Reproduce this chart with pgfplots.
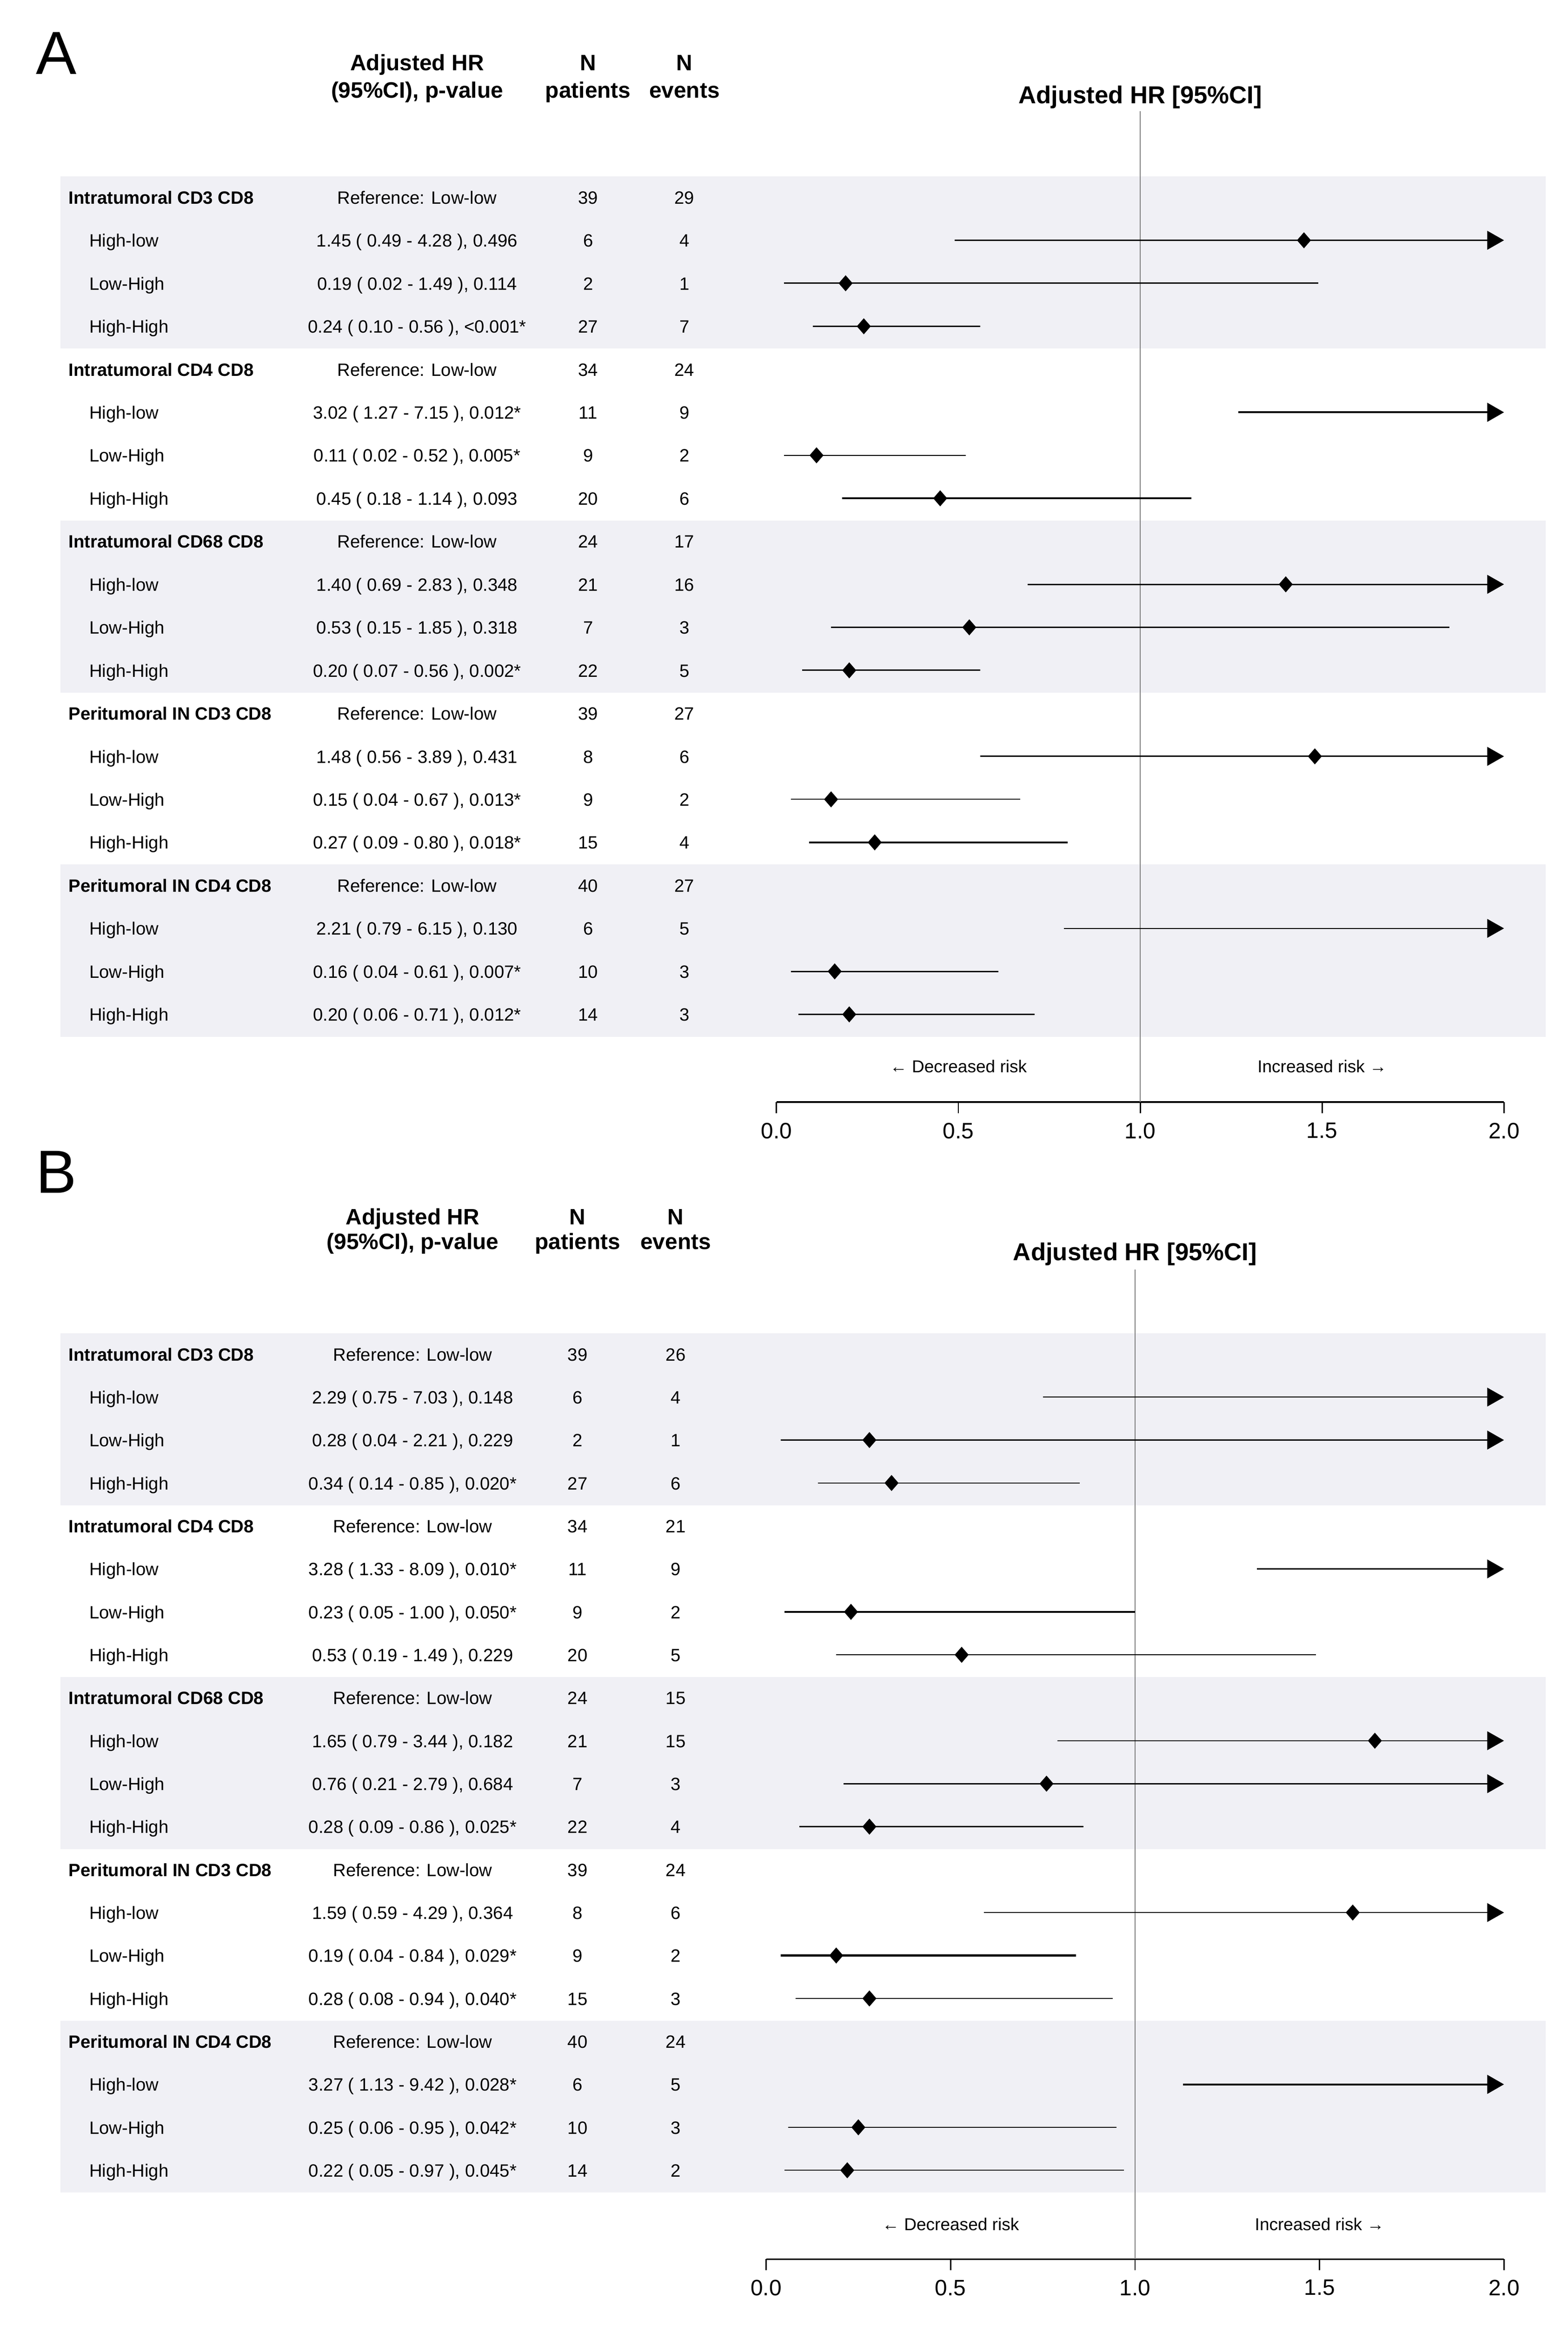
\documentclass[border=0pt]{standalone}
\usepackage{fontspec}
\setmainfont{Liberation Sans}
\usepackage{pgfplots}
\pgfplotsset{compat=1.18}
\usetikzlibrary{arrows.meta}

\definecolor{band}{RGB}{240,240,245}
\definecolor{refline}{RGB}{125,125,125}

\newcommand\fs[1]{\fontsize{#1}{#1}\selectfont}

% column positions (axis units), set before each panel
\newcommand\cL{0}\newcommand\cS{0}\newcommand\cH{0}\newcommand\cP{0}\newcommand\cE{0}

\tikzset{cell/.style={inner sep=0pt, yshift=-1.8pt, font=\fs{12}}}

\newcommand\grp[4]{%
  \node[cell, anchor=mid west, font=\bfseries\fs{12}] at (axis cs:\cL,-#1) {#2};
  \node[cell, anchor=mid] at (axis cs:\cH,-#1) {Reference: Low-low};
  \node[cell, anchor=mid] at (axis cs:\cP,-#1) {#3};
  \node[cell, anchor=mid] at (axis cs:\cE,-#1) {#4};}
\newcommand\sub[5]{%
  \node[cell, anchor=mid west] at (axis cs:\cS,-#1) {#2};
  \node[cell, anchor=mid] at (axis cs:\cH,-#1) {#3};
  \node[cell, anchor=mid] at (axis cs:\cP,-#1) {#4};
  \node[cell, anchor=mid] at (axis cs:\cE,-#1) {#5};}
% two-line bold column header, baselines at y=#2 and y=#3
\newcommand\hdr[5]{%
  \node[inner sep=0pt, anchor=base, font=\bfseries\fs{15}] at (axis cs:#1,#2) {#4};
  \node[inner sep=0pt, anchor=base, font=\bfseries\fs{15}] at (axis cs:#1,#3) {#5};}

\pgfplotsset{
  forest/.style={
    scale only axis, height=725pt,
    xmin=0, xmax=2, ymax=3,
    hide y axis, axis x line*=bottom,
    x axis line style={-, line width=1.05pt},
    xtick={0,0.5,1,1.5,2}, tick align=outside, major tick length=7.4pt,
    xtick style={line width=0.9pt, black},
    xticklabel style={font=\fs{15}, yshift=-3pt, /pgf/number format/.cd, fixed, fixed zerofill, precision=1, assume math mode=true},
    clip=false, set layers,
  },
  ci/.style={black, line width=0.95pt, no marks, forget plot},
  thin/.style={line width=0.7pt},
  thick/.style={line width=1.3pt},
  arr/.style={-{Triangle[length=11.3pt, width=12.6pt]}},
  est/.style={only marks, mark=diamond*, mark size=5.1pt, mark options={black, xscale=1.16}},
  refl/.style={refline, line width=0.7pt, no marks, forget plot},
}

\begin{document}
\begin{tikzpicture}
\path (0,0) rectangle (1056pt,-1566pt);

% ---------------- Panel A ----------------
\renewcommand\cL{-1.947}\renewcommand\cS{-1.890}\renewcommand\cH{-0.988}
\renewcommand\cP{-0.518}\renewcommand\cE{-0.253}
\begin{axis}[forest, width=490pt, ymin=-22.04, at={(523pt,-742pt)}, anchor=south west]
\begin{pgfonlayer}{axis background}
\fill[band] (axis cs:-1.969,-0.516) rectangle (axis cs:2.114,-4.52);
\fill[band] (axis cs:-1.969,-8.516) rectangle (axis cs:2.114,-12.52);
\fill[band] (axis cs:-1.969,-16.516) rectangle (axis cs:2.114,-20.52);
\end{pgfonlayer}
\addplot[refl] coordinates {(1,1.0) (1,-22.04)};

\addplot[ci, arr] coordinates {(0.49,-2) (2,-2)};
\addplot[ci] coordinates {(0.02,-3) (1.49,-3)};
\addplot[ci] coordinates {(0.10,-4) (0.56,-4)};
\addplot[ci, thick, arr] coordinates {(1.27,-6) (2,-6)};
\addplot[ci, thin] coordinates {(0.02,-7) (0.52,-7)};
\addplot[ci, thick] coordinates {(0.18,-8) (1.14,-8)};
\addplot[ci, arr] coordinates {(0.69,-10) (2,-10)};
\addplot[ci] coordinates {(0.15,-11) (1.85,-11)};
\addplot[ci] coordinates {(0.07,-12) (0.56,-12)};
\addplot[ci, arr] coordinates {(0.56,-14) (2,-14)};
\addplot[ci, thin] coordinates {(0.04,-15) (0.67,-15)};
\addplot[ci, thick] coordinates {(0.09,-16) (0.80,-16)};
\addplot[ci, thin, arr] coordinates {(0.79,-18) (2,-18)};
\addplot[ci] coordinates {(0.04,-19) (0.61,-19)};
\addplot[ci] coordinates {(0.06,-20) (0.71,-20)};

\addplot[est] coordinates {
  (1.45,-2) (0.19,-3) (0.24,-4)
  (0.11,-7) (0.45,-8)
  (1.40,-10) (0.53,-11) (0.20,-12)
  (1.48,-14) (0.15,-15) (0.27,-16)
  (0.16,-19) (0.20,-20)
};

\node[font=\fs{41}, anchor=center] at (axis cs:-1.98,2.35) {A};
\hdr{\cH}{1.953}{1.314}{Adjusted HR}{(95\%CI), p-value}
\hdr{\cP}{1.953}{1.314}{N}{patients}
\hdr{\cE}{1.953}{1.314}{N}{events}
\node[inner sep=0pt, font=\bfseries\fs{16.5}, anchor=base] at (axis cs:1,1.18) {Adjusted HR [95\%CI]};
\node[cell, font=\fs{11.6}, anchor=mid] at (axis cs:0.5,-21.2) {← Decreased risk};
\node[cell, font=\fs{11.6}, anchor=mid] at (axis cs:1.5,-21.2) {Increased risk →};

\grp{1}{Intratumoral CD3 CD8}{39}{29}
\sub{2}{High-low}{1.45 ( 0.49 - 4.28 ), 0.496}{6}{4}
\sub{3}{Low-High}{0.19 ( 0.02 - 1.49 ), 0.114}{2}{1}
\sub{4}{High-High}{0.24 ( 0.10 - 0.56 ), <0.001*}{27}{7}
\grp{5}{Intratumoral CD4 CD8}{34}{24}
\sub{6}{High-low}{3.02 ( 1.27 - 7.15 ), 0.012*}{11}{9}
\sub{7}{Low-High}{0.11 ( 0.02 - 0.52 ), 0.005*}{9}{2}
\sub{8}{High-High}{0.45 ( 0.18 - 1.14 ), 0.093}{20}{6}
\grp{9}{Intratumoral CD68 CD8}{24}{17}
\sub{10}{High-low}{1.40 ( 0.69 - 2.83 ), 0.348}{21}{16}
\sub{11}{Low-High}{0.53 ( 0.15 - 1.85 ), 0.318}{7}{3}
\sub{12}{High-High}{0.20 ( 0.07 - 0.56 ), 0.002*}{22}{5}
\grp{13}{Peritumoral IN CD3 CD8}{39}{27}
\sub{14}{High-low}{1.48 ( 0.56 - 3.89 ), 0.431}{8}{6}
\sub{15}{Low-High}{0.15 ( 0.04 - 0.67 ), 0.013*}{9}{2}
\sub{16}{High-High}{0.27 ( 0.09 - 0.80 ), 0.018*}{15}{4}
\grp{17}{Peritumoral IN CD4 CD8}{40}{27}
\sub{18}{High-low}{2.21 ( 0.79 - 6.15 ), 0.130}{6}{5}
\sub{19}{Low-High}{0.16 ( 0.04 - 0.61 ), 0.007*}{10}{3}
\sub{20}{High-High}{0.20 ( 0.06 - 0.71 ), 0.012*}{14}{3}
\end{axis}

% ---------------- Panel B ----------------
\renewcommand\cL{-1.891}\renewcommand\cS{-1.835}\renewcommand\cH{-0.958}
\renewcommand\cP{-0.511}\renewcommand\cE{-0.245}
\begin{axis}[forest, width=497pt, ymin=-22.07, at={(516pt,-1521pt)}, anchor=south west]
\begin{pgfonlayer}{axis background}
\fill[band] (axis cs:-1.913,-0.516) rectangle (axis cs:2.113,-4.52);
\fill[band] (axis cs:-1.913,-8.516) rectangle (axis cs:2.113,-12.52);
\fill[band] (axis cs:-1.913,-16.516) rectangle (axis cs:2.113,-20.52);
\end{pgfonlayer}
\addplot[refl] coordinates {(1,0.97) (1,-22.07)};

\addplot[ci, thin, arr] coordinates {(0.75,-2) (2,-2)};
\addplot[ci, arr] coordinates {(0.04,-3) (2,-3)};
\addplot[ci, thin] coordinates {(0.14,-4) (0.85,-4)};
\addplot[ci, thin, arr] coordinates {(1.33,-6) (2,-6)};
\addplot[ci, thick] coordinates {(0.05,-7) (1.00,-7)};
\addplot[ci, thin] coordinates {(0.19,-8) (1.49,-8)};
\addplot[ci, thin, arr] coordinates {(0.79,-10) (2,-10)};
\addplot[ci, arr] coordinates {(0.21,-11) (2,-11)};
\addplot[ci] coordinates {(0.09,-12) (0.86,-12)};
\addplot[ci, thin, arr] coordinates {(0.59,-14) (2,-14)};
\addplot[ci, thick] coordinates {(0.04,-15) (0.84,-15)};
\addplot[ci, thin] coordinates {(0.08,-16) (0.94,-16)};
\addplot[ci, thick, arr] coordinates {(1.13,-18) (2,-18)};
\addplot[ci, thin] coordinates {(0.06,-19) (0.95,-19)};
\addplot[ci, thin] coordinates {(0.05,-20) (0.97,-20)};

\addplot[est] coordinates {
  (0.28,-3) (0.34,-4)
  (0.23,-7) (0.53,-8)
  (1.65,-10) (0.76,-11) (0.28,-12)
  (1.59,-14) (0.19,-15) (0.28,-16)
  (0.25,-19) (0.22,-20)
};

\node[font=\fs{41}, anchor=center] at (axis cs:-1.924,3.24) {B};
\hdr{\cH}{2.011}{1.440}{Adjusted HR}{(95\%CI), p-value}
\hdr{\cP}{2.011}{1.440}{N}{patients}
\hdr{\cE}{2.011}{1.440}{N}{events}
\node[inner sep=0pt, font=\bfseries\fs{16.5}, anchor=base] at (axis cs:1,1.18) {Adjusted HR [95\%CI]};
\node[cell, font=\fs{11.6}, anchor=mid] at (axis cs:0.5,-21.25) {← Decreased risk};
\node[cell, font=\fs{11.6}, anchor=mid] at (axis cs:1.5,-21.25) {Increased risk →};

\grp{1}{Intratumoral CD3 CD8}{39}{26}
\sub{2}{High-low}{2.29 ( 0.75 - 7.03 ), 0.148}{6}{4}
\sub{3}{Low-High}{0.28 ( 0.04 - 2.21 ), 0.229}{2}{1}
\sub{4}{High-High}{0.34 ( 0.14 - 0.85 ), 0.020*}{27}{6}
\grp{5}{Intratumoral CD4 CD8}{34}{21}
\sub{6}{High-low}{3.28 ( 1.33 - 8.09 ), 0.010*}{11}{9}
\sub{7}{Low-High}{0.23 ( 0.05 - 1.00 ), 0.050*}{9}{2}
\sub{8}{High-High}{0.53 ( 0.19 - 1.49 ), 0.229}{20}{5}
\grp{9}{Intratumoral CD68 CD8}{24}{15}
\sub{10}{High-low}{1.65 ( 0.79 - 3.44 ), 0.182}{21}{15}
\sub{11}{Low-High}{0.76 ( 0.21 - 2.79 ), 0.684}{7}{3}
\sub{12}{High-High}{0.28 ( 0.09 - 0.86 ), 0.025*}{22}{4}
\grp{13}{Peritumoral IN CD3 CD8}{39}{24}
\sub{14}{High-low}{1.59 ( 0.59 - 4.29 ), 0.364}{8}{6}
\sub{15}{Low-High}{0.19 ( 0.04 - 0.84 ), 0.029*}{9}{2}
\sub{16}{High-High}{0.28 ( 0.08 - 0.94 ), 0.040*}{15}{3}
\grp{17}{Peritumoral IN CD4 CD8}{40}{24}
\sub{18}{High-low}{3.27 ( 1.13 - 9.42 ), 0.028*}{6}{5}
\sub{19}{Low-High}{0.25 ( 0.06 - 0.95 ), 0.042*}{10}{3}
\sub{20}{High-High}{0.22 ( 0.05 - 0.97 ), 0.045*}{14}{2}
\end{axis}
\end{tikzpicture}
\end{document}
